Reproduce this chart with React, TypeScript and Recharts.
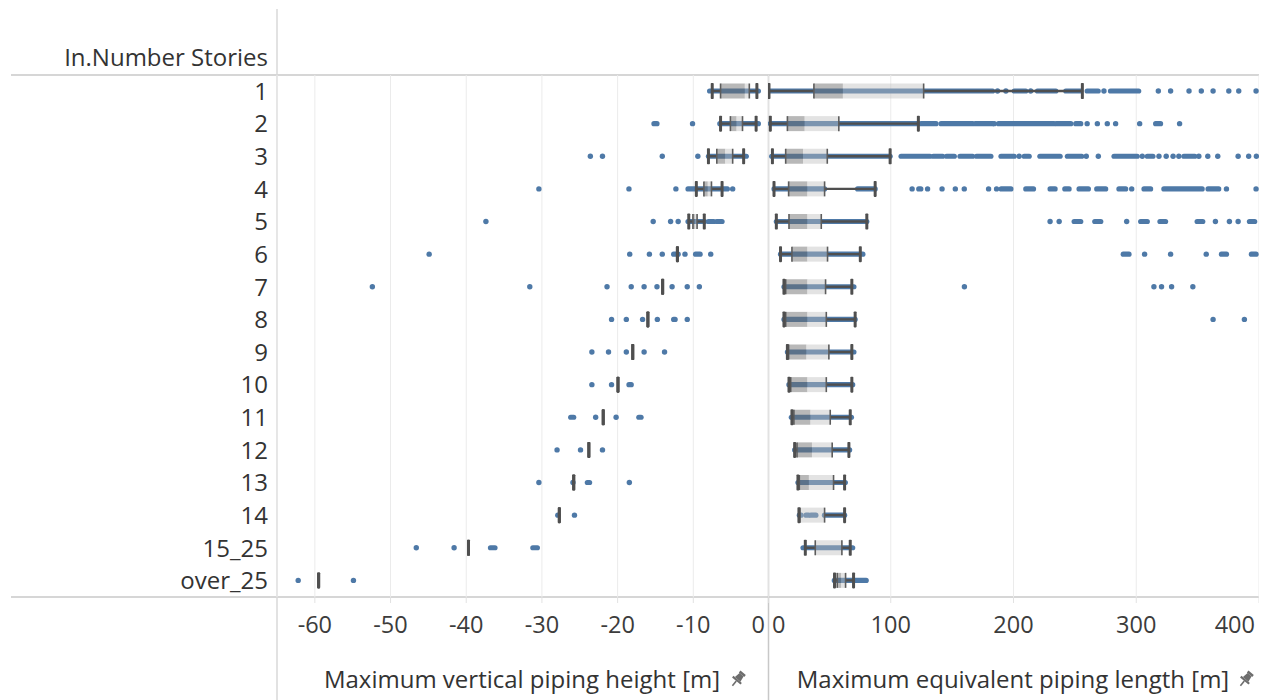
import React from 'react';
import { ComposedChart, Bar, XAxis, YAxis, CartesianGrid } from 'recharts';

// ---------- categories ----------
const STORIES = ['1', '2', '3', '4', '5', '6', '7', '8', '9', '10', '11', '12', '13', '14', '15_25', 'over_25'];

// ---------- left pane: Maximum vertical piping height [m] ----------
const HEIGHT_DOMAIN: [number, number] = [-65, 0];
const HEIGHT_TICKS = [-60, -50, -40, -30, -20, -10, 0];
const HEIGHT_LOW = [-7.5, -6.4, -8.0, -9.6, -10.6, -12.1, -14.05, -16.0, -18.0, -19.95, -21.9, -23.8, -25.8, -27.7, -39.7, -59.5];
const HEIGHT_Q1 = [-6.4, -5.1, -6.9, -8.6, -10.05, -12.1, -14.05, -16.0, -18.0, -19.95, -21.9, -23.8, -25.8, -27.7, -39.7, -59.5];
const HEIGHT_MEDIAN = [-3.2, -4.3, -5.8, -8.1, -9.8, -12.1, -14.05, -16.0, -18.0, -19.95, -21.9, -23.8, -25.8, -27.7, -39.7, -59.5];
const HEIGHT_Q3 = [-2.6, -3.5, -4.8, -7.6, -9.5, -12.1, -14.05, -16.0, -18.0, -19.95, -21.9, -23.8, -25.8, -27.7, -39.7, -59.5];
const HEIGHT_HIGH = [-1.6, -1.7, -3.35, -6.2, -8.55, -12.1, -14.05, -16.0, -18.0, -19.95, -21.9, -23.8, -25.8, -27.7, -39.7, -59.5];
// dense runs of observations [from, to]
const HEIGHT_RUNS: [number, number][][] = [
  [[-7.85, -1.4]],
  [[-15.2, -14.8], [-6.5, -1.4]],
  [[-8.0, -3.0]],
  [[-10.7, -5.5]],
  [[-10.7, -8.5], [-8.0, -7.3], [-6.9, -6.2]],
  [[-12.6, -12.0], [-9.7, -9.1]],
  [],
  [[-12.6, -12.4]],
  [],
  [[-18.5, -18.2]],
  [[-26.2, -25.8], [-17.2, -16.9]],
  [],
  [[-24.0, -23.7]],
  [],
  [[-36.8, -36.2], [-31.2, -30.6]],
  [],
];
// single observations
const HEIGHT_DOTS: number[][] = [
  [],
  [-10.1],
  [-23.6, -22.0, -14.1, -9.4],
  [-30.4, -18.5, -12.3, -4.8],
  [-37.4, -15.3, -13.0, -12.0],
  [-44.9, -18.4, -15.8, -14.1, -11.1, -7.7],
  [-52.4, -31.6, -21.4, -18.2, -16.5, -14.8, -12.8, -10.8, -9.2],
  [-20.8, -18.85, -16.7, -14.75, -10.8],
  [-23.4, -21.2, -18.85, -16.5, -13.8],
  [-23.4, -20.8],
  [-22.9, -20.2],
  [-28.0, -24.9, -22.0],
  [-30.4, -25.9, -18.45],
  [-27.9, -25.7],
  [-46.6, -41.6],
  [-62.2, -54.9],
];

// ---------- right pane: Maximum equivalent piping length [m] ----------
const LENGTH_DOMAIN: [number, number] = [0, 400];
const LENGTH_TICKS = [0, 100, 200, 300, 400];
const LENGTH_LOW = [0.8, 1.9, 3.6, 4.9, 6.8, 10.2, 13, 13, 15.8, 17.1, 19.5, 21.7, 24.4, 25.2, 30.4, 54.2];
const LENGTH_Q1 = [37.4, 15.8, 14.4, 16.8, 17.1, 19.5, 14.4, 14.4, 16.8, 18.5, 21.1, 23.6, 25.5, 26, 38.5, 56.4];
const LENGTH_MEDIAN = [61, 29.8, 28.5, 32, 32, 32, 32, 32, 31.2, 32, 34.5, 35.8, 33.3, 26.2, 38.8, 59.5];
const LENGTH_Q3 = [126.8, 57.7, 48.3, 46.1, 43.4, 48.5, 46.9, 47.5, 49.6, 47.5, 50.7, 52.3, 53.4, 46.1, 60.2, 63.2];
const LENGTH_HIGH = [256.1, 122.5, 99.5, 87.3, 80.5, 75.2, 68.3, 71, 68.3, 68.3, 67, 65.9, 62.4, 62.4, 67, 69.7];
const LENGTH_RUNS: [number, number][][] = [
  [[0.8, 183], [200.6, 210], [219.5, 234.5], [242.6, 254.8], [260, 269], [279, 302]],
  [[1.9, 122.5], [124.7, 136.9], [141, 166.7], [168.9, 183], [187.8, 233], [235, 246.7], [250.7, 254.8], [315.8, 319.8]],
  [[3, 99.5], [108.4, 132], [134.7, 142.3], [145.5, 151.8], [156.4, 166.7], [169.9, 181.6], [189.8, 200.6], [208.7, 212.8], [221.5, 238], [243.9, 255.6], [281.9, 300.8], [309, 313.6], [338.8, 347.7]],
  [[4.9, 46.1], [73, 87.3], [122.8, 124.5], [190, 197.9], [210, 216.3], [229.8, 233.9], [241.8, 245.3], [253.4, 261], [267.8, 275.1], [285.9, 291.4], [306.3, 311.7], [322.5, 353.7], [358.5, 367.2]],
  [[6.8, 80.5], [249.4, 254.8], [266.2, 271.1], [303.6, 309], [319.3, 323.9], [349.6, 354.2], [392.2, 396.5]],
  [[10.2, 77.3], [289.4, 294.1], [369.4, 373.5], [393.8, 397.6]],
  [[13, 70]],
  [[13, 71]],
  [[15.8, 70]],
  [[17, 69]],
  [[19, 68]],
  [[21.7, 66.5]],
  [[24.4, 63]],
  [[25.5, 27], [31, 33], [35, 39], [46, 62.4]],
  [[28.5, 69]],
  [[54, 80]],
];
const LENGTH_DOTS: number[][] = [
  [187, 193.8, 214, 273.7, 318, 328, 343, 353, 362.6, 375.4, 383.5, 397.6],
  [184.3, 260, 268.3, 276.4, 283.2, 302.8, 335.3],
  [204.6, 259.3, 269.1, 304.9, 318.5, 324.4, 330, 334.7, 351, 358.3, 366.4, 383, 391.6, 397.9],
  [117.4, 130, 141.8, 152.6, 159.9, 179.7, 186.2, 296.3, 373.5, 397.6],
  [229.8, 237.2, 292.2, 364.5, 375.9, 383],
  [306.8, 328, 357],
  [160, 314.4, 320.6, 328.8, 346.1],
  [362.6, 388.1],
  [], [], [], [], [], [], [], [],
];

// ---------- styling ----------
const BLUE = '#4e79a7';
const WHISKER = '#4f4f4f';
const FONT = '"Open Sans", "DejaVu Sans", sans-serif';

function buildRows(
  domain: [number, number],
  low: number[], q1: number[], med: number[], q3: number[], high: number[],
  runs: [number, number][][], dots: number[][],
) {
  return STORIES.map((story, i) => ({
    story,
    track: [domain[0], domain[1]],
    low: low[i], q1: q1[i], med: med[i], q3: q3[i], high: high[i],
    runs: runs[i], dots: dots[i],
  }));
}

const HEIGHT_ROWS = buildRows(HEIGHT_DOMAIN, HEIGHT_LOW, HEIGHT_Q1, HEIGHT_MEDIAN, HEIGHT_Q3, HEIGHT_HIGH, HEIGHT_RUNS, HEIGHT_DOTS);
const LENGTH_ROWS = buildRows(LENGTH_DOMAIN, LENGTH_LOW, LENGTH_Q1, LENGTH_MEDIAN, LENGTH_Q3, LENGTH_HIGH, LENGTH_RUNS, LENGTH_DOTS);

function makeBoxShape(domain: [number, number]) {
  return (props: any) => {
    const { x, y, width, height, payload } = props;
    const s = (v: number) => x + ((v - domain[0]) / (domain[1] - domain[0])) * width;
    const cy = y + height / 2;
    const { low, q1, med, q3, high, runs, dots } = payload;
    const bh = 15;
    const hasBox = q3 - q1 > 0.0001;
    return (
      <g>
        {runs.map(([a, b]: [number, number], k: number) => (
          <rect key={'r' + k} x={s(a) - 2.6} y={cy - 2.6} width={s(b) - s(a) + 5.2} height={5.2} rx={2.6} fill={BLUE} />
        ))}
        {dots.map((d: number, k: number) => (
          <circle key={'d' + k} cx={s(d)} cy={cy} r={2.7} fill={BLUE} />
        ))}
        {hasBox && (
          <>
            <rect x={s(q1)} y={cy - bh / 2} width={Math.max(0, s(med) - s(q1))} height={bh} fill="#6a6a6a" fillOpacity={0.48} />
            <rect x={s(med)} y={cy - bh / 2} width={Math.max(0, s(q3) - s(med))} height={bh} fill="#bcbcbc" fillOpacity={0.42} />
          </>
        )}
        <line x1={s(low)} x2={s(q1)} y1={cy} y2={cy} stroke={WHISKER} strokeWidth={2.4} />
        <line x1={s(q3)} x2={s(high)} y1={cy} y2={cy} stroke={WHISKER} strokeWidth={2.4} />
        {hasBox && (
          <>
            <line x1={s(q1)} x2={s(q1)} y1={cy - bh / 2} y2={cy + bh / 2} stroke="#5c5c5c" strokeWidth={1.6} />
            <line x1={s(q3)} x2={s(q3)} y1={cy - bh / 2} y2={cy + bh / 2} stroke="#5c5c5c" strokeWidth={1.6} />
          </>
        )}
        <rect x={s(low) - 1.5} y={cy - 8} width={3} height={16} rx={0.8} fill={WHISKER} />
        <rect x={s(high) - 1.5} y={cy - 8} width={3} height={16} rx={0.8} fill={WHISKER} />
      </g>
    );
  };
}

const StoryTick = (props: any) => {
  const { x, y, payload } = props;
  return (
    <text x={x} y={y} dy={8.5} textAnchor="end" fontSize={24} fill="#333" fontFamily={FONT}>
      {payload.value}
    </text>
  );
};

const makeValueTick = (first: number, last: number, edgeStart: boolean) => (props: any) => {
  const { x, y, payload } = props;
  const v = payload.value;
  let anchor: 'start' | 'middle' | 'end' = 'middle';
  let dx = 0;
  if (v === last) { anchor = 'end'; dx = -4; }
  if (edgeStart && v === first) { anchor = 'start'; dx = 4; }
  return (
    <text x={x + dx} y={y + 28} textAnchor={anchor} fontSize={23.5} fill="#3c3c3c" fontFamily={FONT}>
      {v}
    </text>
  );
};

const HeightTick = makeValueTick(-60, 0, false);
const LengthTick = makeValueTick(0, 400, true);

const Pin = ({ cx, cy }: { cx: number; cy: number }) => (
  <g transform={`translate(${cx},${cy}) rotate(40)`} fill="#6d6d6d">
    <rect x={-3.5} y={-8} width={7} height={2.5} />
    <path d="M-2.6,-5.5 L2.6,-5.5 L3.6,0.5 L-3.6,0.5 Z" />
    <rect x={-5.5} y={0.5} width={11} height={2.2} />
    <rect x={-0.8} y={2.7} width={1.6} height={6} />
  </g>
);

const PLOT_H = 522;
const AXIS_H = 103;

export default function App() {
  return (
    <div style={{ position: 'absolute', left: 0, top: 0, width: 1270, height: 700, background: '#fff', fontFamily: FONT }}>
      <svg width={1270} height={700} style={{ position: 'absolute', left: 0, top: 0 }}>
        <line x1={11} x2={1259} y1={75} y2={75} stroke="#d6d6d6" strokeWidth={2} />
        <line x1={11} x2={1259} y1={597} y2={597} stroke="#d6d6d6" strokeWidth={2} />
        <line x1={277} x2={277} y1={9} y2={700} stroke="#d9d9d9" strokeWidth={1.5} />
        <line x1={768.5} x2={768.5} y1={75} y2={700} stroke="#c8c8c8" strokeWidth={1.5} />
        <text x={268} y={66} textAnchor="end" fontSize={24} fill="#333" fontFamily={FONT}>In.Number Stories</text>
        <text x={522} y={688} textAnchor="middle" fontSize={24} fill="#333" fontFamily={FONT}>Maximum vertical piping height [m]</text>
        <Pin cx={738} cy={679} />
        <text x={1013} y={688} textAnchor="middle" fontSize={24} fill="#333" fontFamily={FONT}>Maximum equivalent piping length [m]</text>
        <Pin cx={1246} cy={679} />
      </svg>

      <div style={{ position: 'absolute', left: 0, top: 75 }}>
        <ComposedChart
          width={769}
          height={PLOT_H + AXIS_H}
          data={HEIGHT_ROWS}
          layout="vertical"
          margin={{ top: 0, right: 0, bottom: 0, left: 0 }}
          barCategoryGap={0}
        >
          <CartesianGrid horizontal={false} stroke="#ebebeb" />
          <XAxis
            type="number"
            domain={HEIGHT_DOMAIN}
            ticks={HEIGHT_TICKS}
            allowDataOverflow
            interval={0}
            height={AXIS_H}
            axisLine={false}
            tickLine={{ stroke: '#e2e2e2' }}
            tickSize={6}
            tick={<HeightTick />}
          />
          <YAxis
            type="category"
            dataKey="story"
            width={277}
            axisLine={false}
            tickLine={false}
            tickSize={0}
            tickMargin={9}
            interval={0}
            tick={<StoryTick />}
          />
          <Bar dataKey="track" barSize={20} isAnimationActive={false} shape={makeBoxShape(HEIGHT_DOMAIN)} />
        </ComposedChart>
      </div>

      <div style={{ position: 'absolute', left: 768, top: 75 }}>
        <ComposedChart
          width={491}
          height={PLOT_H + AXIS_H}
          data={LENGTH_ROWS}
          layout="vertical"
          margin={{ top: 0, right: 0, bottom: 0, left: 0 }}
          barCategoryGap={0}
        >
          <CartesianGrid horizontal={false} stroke="#ebebeb" />
          <XAxis
            type="number"
            domain={LENGTH_DOMAIN}
            ticks={LENGTH_TICKS}
            allowDataOverflow
            interval={0}
            height={AXIS_H}
            axisLine={false}
            tickLine={{ stroke: '#e2e2e2' }}
            tickSize={6}
            tick={<LengthTick />}
          />
          <YAxis type="category" dataKey="story" hide width={0} />
          <Bar dataKey="track" barSize={20} isAnimationActive={false} shape={makeBoxShape(LENGTH_DOMAIN)} />
        </ComposedChart>
      </div>
    </div>
  );
}
